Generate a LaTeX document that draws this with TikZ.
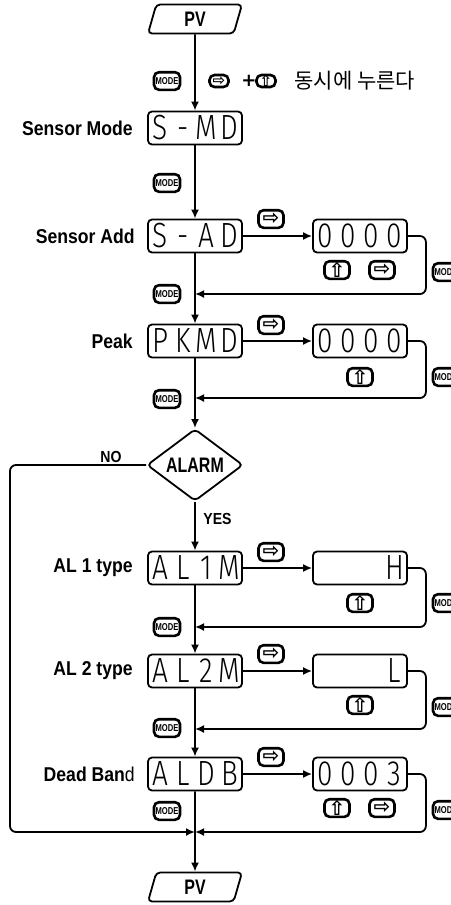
\documentclass[tikz,border=0pt]{standalone}
\usepackage{fontspec}
\setmainfont{Liberation Sans}
\newfontfamily\labelfont[FakeStretch=0.88]{Liberation Sans}
\newfontfamily\narrowfont[FakeStretch=0.76]{Liberation Sans}
\newfontfamily\lcdfont[FakeStretch=0.8]{Fira Sans Light}
\newfontfamily\symfont{DejaVu Sans}
\newfontfamily\krfont{Noto Sans CJK KR}
\usepackage{tikz}
\usetikzlibrary{shapes.geometric,arrows.meta,positioning}

% four-digit display
\newcommand\lcd[4]{\makebox[11.5pt]{#1}\makebox[11.5pt]{#2}\makebox[11.5pt]{#3}\makebox[11.5pt]{#4}}

\tikzset{
  flow/.style = {line width = 0.9pt, -{Latex[length = 4.5pt, width = 4pt]}},
  lcdbox/.style = {draw, line width = 0.9pt, rounded corners = 2pt, minimum width = 47pt, minimum height = 16.5pt, inner sep = 0pt, font = \lcdfont\fontsize{17.5}{17.5}\selectfont},
  pvbox/.style = {draw, line width = 0.9pt, shape = trapezium, trapezium left angle = 81, trapezium right angle = 99, trapezium stretches = true, rounded corners = 2pt, minimum width = 47pt, minimum height = 14.5pt, inner sep = 0pt, font = \narrowfont\bfseries\fontsize{10.5}{10.5}\selectfont},
  decision/.style = {draw, line width = 0.9pt, shape = diamond, rounded corners = 2pt, minimum width = 48pt, minimum height = 34pt, inner sep = 0pt, font = \narrowfont\bfseries\fontsize{10.5}{10.5}\selectfont},
  keybox/.style = {draw, line width = 1.3pt, rounded corners = 2.5pt, minimum width = 12.5pt, minimum height = 8.8pt, inner sep = 0pt, font = \symfont\bfseries\fontsize{10}{10}\selectfont},
  smallkey/.style = {keybox, minimum width = 9.5pt, minimum height = 6pt, font = \symfont\bfseries\fontsize{7.5}{7.5}\selectfont},
  modekey/.style = {keybox, minimum width = 13pt, font = \narrowfont\bfseries\fontsize{5}{5}\selectfont},
  steplabel/.style = {font = \labelfont\bfseries\fontsize{10}{10}\selectfont, inner sep = 0pt},
  branchlabel/.style = {font = \labelfont\bfseries\fontsize{8}{8}\selectfont, inner sep = 0pt}
}

\begin{document}
\begin{tikzpicture}[x = 0.5pt, y = -0.5pt]
\useasboundingbox (0,0) rectangle (450,905);

% main column
\node[pvbox] (pvtop) at (195,19) {PV};
\node[lcdbox] (smd) at (195,128) {\lcd{S}{-}{M}{D}};
\node[lcdbox] (sad) at (195,236) {\lcd{S}{-}{A}{D}};
\node[lcdbox] (pkmd) at (195,341) {\lcd{P}{K}{M}{D}};
\node[decision] (alarm) at (195,465) {ALARM};
\node[lcdbox] (al1m) at (195,568) {\lcd{A}{L}{1}{M}};
\node[lcdbox] (al2m) at (195,671) {\lcd{A}{L}{2}{M}};
\node[lcdbox] (aldb) at (195,774) {\lcd{A}{L}{D}{B}};
\node[pvbox] (pvend) at (195,887) {PV};

% setting values
\node[lcdbox] (sadval) at (360,236) {\lcd{0}{0}{0}{0}};
\node[lcdbox] (pkmdval) at (360,341) {\lcd{0}{0}{0}{0}};
\node[lcdbox] (al1mval) at (360,568) {\lcd{}{}{}{H}};
\node[lcdbox] (al2mval) at (360,671) {\lcd{}{}{}{L}};
\node[lcdbox] (aldbval) at (360,774) {\lcd{0}{0}{0}{3}};

% names
\node[steplabel, left = 7pt of smd] (smdname) {Sensor Mode};
\node[steplabel, left = 6pt of sad] (sadname) {Sensor Add};
\node[steplabel, left = 7pt of pkmd] (pkmdname) {Peak};
\node[steplabel, left = 7pt of al1m] (al1mname) {AL 1 type};
\node[steplabel, left = 7pt of al2m] (al2mname) {AL 2 type};
\node[steplabel, left = 6pt of aldb] (aldbname) {Dead Ban\mdseries d};

% keys
\node[modekey] (mode0) at (167,81) {MODE};
\node[smallkey] (rkey0) at (219,81) {⇨};
\node[font = \symfont\bfseries\fontsize{9}{9}\selectfont] (plus0) at (249,81) {+};
\node[smallkey] (ukey0) at (266,81) {⇧};
\node[anchor = west, inner sep = 0pt, font = \krfont\fontsize{10.5}{10.5}\selectfont] (presstext) at (294,81) {동시에 누른다};

\node[modekey] (mode1) at (167,183) {MODE};
\node[keybox] (rkey1) at (271,219) {⇨};
\node[keybox] (ukey1) at (337,270) {⇧};
\node[keybox] (rkey1b) at (382,270) {⇨};
\node[modekey] (mode1r) at (446,272) {MODE};
\node[modekey] (mode2) at (167,294) {MODE};

\node[keybox] (rkey2) at (271,325) {⇨};
\node[keybox] (ukey2) at (360,377) {⇧};
\node[modekey] (mode2r) at (446,377) {MODE};
\node[modekey] (mode3) at (167,399) {MODE};

\node[branchlabel] (nolabel) at (111,457) {NO};
\node[branchlabel, anchor = west] (yeslabel) at (203,519) {YES};

\node[keybox] (rkey3) at (271,552) {⇨};
\node[keybox] (ukey3) at (360,603) {⇧};
\node[modekey] (mode3r) at (446,603) {MODE};
\node[modekey] (mode4) at (167,627) {MODE};

\node[keybox] (rkey4) at (271,654) {⇨};
\node[keybox] (ukey4) at (360,705) {⇧};
\node[modekey] (mode4r) at (446,707) {MODE};
\node[modekey] (mode5) at (167,728) {MODE};

\node[keybox] (rkey5) at (271,757) {⇨};
\node[keybox] (ukey5) at (337,808) {⇧};
\node[keybox] (rkey5b) at (382,808) {⇨};
\node[modekey] (mode5r) at (446,810) {MODE};
\node[modekey] (mode6) at (167,811) {MODE};

% junctions on the main line
\coordinate (sadret) at (195,294);
\coordinate (pkmdret) at (195,398);
\coordinate (al1mret) at (195,627);
\coordinate (al2mret) at (195,729);
\coordinate (endret) at (195,832);
\coordinate (nocorner) at (10,832);

% main flow
\draw[flow] (pvtop.south) -- (smd.north);
\draw[flow] (smd.south) -- (sad.north);
\draw[flow] (sad.south) -- (pkmd.north);
\draw[flow] (pkmd.south) -- (alarm.north);
\draw[flow] (alarm.south) -- (al1m.north);
\draw[flow] (al1m.south) -- (al2m.north);
\draw[flow] (al2m.south) -- (aldb.north);
\draw[flow] (aldb.south) -- (pvend.north);

% into the values
\draw[flow] (sad.east) -- (sadval.west);
\draw[flow] (pkmd.east) -- (pkmdval.west);
\draw[flow] (al1m.east) -- (al1mval.west);
\draw[flow] (al2m.east) -- (al2mval.west);
\draw[flow] (aldb.east) -- (aldbval.west);

% back to the main line
\draw[flow, rounded corners = 3pt] (sadval.east) -- ++(18,0) |- (sadret);
\draw[flow, rounded corners = 3pt] (pkmdval.east) -- ++(18,0) |- (pkmdret);
\draw[flow, rounded corners = 3pt] (al1mval.east) -- ++(18,0) |- (al1mret);
\draw[flow, rounded corners = 3pt] (al2mval.east) -- ++(18,0) |- (al2mret);
\draw[flow, rounded corners = 3pt] (aldbval.east) -- ++(18,0) |- (endret);
\draw[flow, rounded corners = 3pt] (alarm.west) -| (nocorner) -- (endret);
\end{tikzpicture}
\end{document}
